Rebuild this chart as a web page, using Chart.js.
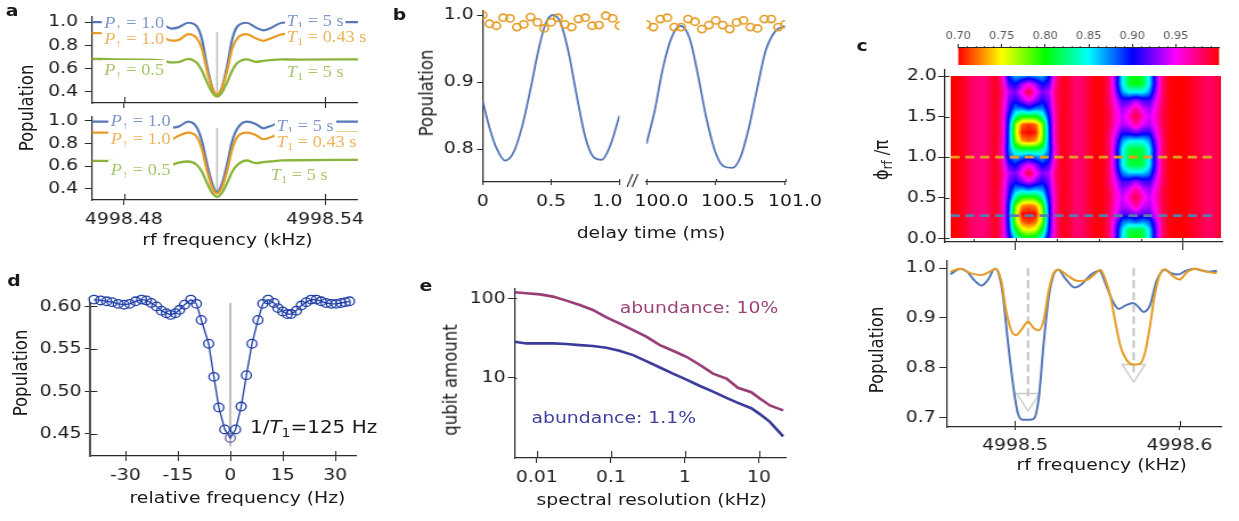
<!DOCTYPE html>
<html>
<head>
<meta charset="utf-8">
<script src="https://cdn.jsdelivr.net/npm/chart.js@4.4.1/dist/chart.umd.min.js"></script>
<style>
html, body { margin: 0; padding: 0; background: #fff; overflow: hidden; width: 1239px; height: 521px; }
#stage { position: absolute; left: 0; top: 0; width: 1087px; height: 521px; transform: scaleX(1.14); transform-origin: 0 0;
         font-family: 'DejaVu Sans'; font-size: 16.5px; color: #1a1a1a; }
#stage canvas { position: absolute; }
.t { position: absolute; white-space: nowrap; line-height: 1; transform: translate(-50%, -50%); }
.v { transform: translate(-50%, -50%) rotate(-90deg); }
.l { transform: translate(0, -50%); }
.b { font-weight: bold; }
.m { font-family: 'Liberation Serif'; font-size: 16px; background: #fff; padding: 2px 2px; }
sub { font-size: 70%; vertical-align: -0.3em; line-height: 0; }
</style>
</head>
<body>
<div id="stage"></div>
<script>
const S = 1.14;            // whole figure is stretched horizontally by this factor
const stage = document.getElementById('stage');

const BLUE = '#5577b8', ORANGE = '#e69c24', GREEN = '#8ab43a', GRAY = '#bdbdbd';
const DBLUE = '#1f3fa6', PURPLE = '#983c74', NAVY = '#3b3b9b';

// ---------- a: spectra for two settings ----------
const aFreq = [4998.4704, 4998.4780, 4998.4840, 4998.4888, 4998.4919, 4998.4941, 4998.4963, 4998.4992,
               4998.5017, 4998.5033, 4998.5048, 4998.5064, 4998.5078, 4998.5092, 4998.5108, 4998.5123,
               4998.5139, 4998.5166, 4998.5193, 4998.5216, 4998.5238, 4998.5271, 4998.5318, 4998.5498];
const aTopBlue   = [1.0, 1.0, 0.998, 0.995, 0.975, 0.945, 0.955, 0.995, 0.965, 0.85, 0.62, 0.43,
                    0.365, 0.43, 0.62, 0.85, 0.965, 0.995, 0.955, 0.93, 0.95, 0.995, 1.0, 1.0];
const aTopOrange = [0.905, 0.905, 0.903, 0.90, 0.868, 0.84, 0.845, 0.897, 0.862, 0.77, 0.58, 0.43,
                    0.37, 0.43, 0.58, 0.77, 0.862, 0.897, 0.86, 0.839, 0.86, 0.894, 0.905, 0.905];
const aTopGreen  = [0.683, 0.678, 0.676, 0.674, 0.665, 0.652, 0.655, 0.683, 0.648, 0.58, 0.48, 0.39,
                    0.355, 0.39, 0.48, 0.58, 0.648, 0.678, 0.657, 0.665, 0.672, 0.678, 0.676, 0.678];
const aBotBlue   = [0.994, 0.994, 0.993, 0.99, 0.965, 0.941, 0.95, 0.994, 0.944, 0.82, 0.62, 0.44,
                    0.367, 0.44, 0.62, 0.82, 0.935, 0.994, 0.974, 0.935, 0.956, 0.99, 0.994, 0.994];
const aBotOrange = [0.897, 0.897, 0.896, 0.89, 0.86, 0.838, 0.868, 0.897, 0.861, 0.75, 0.56, 0.41,
                    0.356, 0.41, 0.56, 0.75, 0.861, 0.897, 0.876, 0.838, 0.856, 0.89, 0.897, 0.897];
const aBotGreen  = [0.647, 0.643, 0.641, 0.635, 0.62, 0.612, 0.63, 0.641, 0.612, 0.55, 0.45, 0.36,
                    0.327, 0.36, 0.45, 0.55, 0.612, 0.65, 0.627, 0.635, 0.641, 0.65, 0.652, 0.656];
const aMarkFreq = [4998.5078, 4998.5078];
const aTopMark = [0.916, 0.355];
const aBotMark = [0.936, 0.362];
const aTicksX = [4998.48, 4998.54], aLabelsX = ['4998.48', '4998.54'];
const aTicksY = [0.4, 0.6, 0.8, 1.0], aLabelsY = ['0.4', '0.6', '0.8', '1.0'];

// ---------- b: population vs delay ----------
const bLeftT   = [0, 0.05, 0.1, 0.165, 0.23, 0.29, 0.35, 0.41, 0.46, 0.515, 0.57, 0.63, 0.69, 0.75, 0.81, 0.87, 0.93, 1.0];
const bLeftPop = [0.872, 0.832, 0.802, 0.783, 0.797, 0.835, 0.890, 0.950, 0.987, 1.0, 0.988, 0.942, 0.877, 0.818, 0.788, 0.784, 0.804, 0.850];
const bRightT   = [100.0, 100.06, 100.12, 100.18, 100.245, 100.31, 100.37, 100.43, 100.5, 100.56, 100.62, 100.68, 100.74, 100.8, 100.86, 100.93, 101.0];
const bRightPop = [0.808, 0.858, 0.922, 0.966, 0.984, 0.966, 0.912, 0.848, 0.794, 0.774, 0.772, 0.789, 0.833, 0.892, 0.947, 0.976, 0.984];
const bCircLeftT = [0, 0.05, 0.1, 0.15, 0.2, 0.25, 0.3, 0.35, 0.4, 0.45, 0.5, 0.55, 0.6, 0.65, 0.7, 0.75, 0.8, 0.85, 0.9, 0.95, 1.0];
const bCircLeft  = [1.0, 0.987, 0.984, 0.996, 0.995, 0.982, 0.986, 0.997, 0.989, 0.980, 0.989, 0.996, 0.986, 0.982, 0.994, 0.996, 0.984, 0.985, 0.999, 0.995, 0.984];
const bCircRightT = [100.0, 100.05, 100.1, 100.15, 100.2, 100.25, 100.3, 100.35, 100.4, 100.45, 100.5, 100.55, 100.6, 100.65, 100.7, 100.75, 100.8, 100.85, 100.9, 100.95, 101.0];
const bCircRight  = [0.986, 0.982, 0.994, 0.996, 0.982, 0.982, 0.994, 0.990, 0.979, 0.985, 0.992, 0.985, 0.979, 0.989, 0.992, 0.982, 0.980, 0.994, 0.994, 0.982, 0.986];
const bTicksY = [0.8, 0.9, 1.0], bLabelsY = ['0.8', '0.9', '1.0'];
const bTicksLeft = [0, 0.5, 1.0], bLabelsLeft = ['0', '0.5', ''];
const bTicksRight = [100.0, 100.5, 101.0];
// labels near the break sit off their ticks, so they are placed as text
const bBreakLabels = ['1.0', '100.0', '100.5', '101.0'];

// ---------- c: phase map and two cuts ----------
const cbarLevels = [0.70, 0.75, 0.80, 0.85, 0.90, 0.95, 1.00];
const cbarColors = ['#ff0000', '#ffff00', '#00ff00', '#00ffff', '#0000ff', '#ff00ff', '#ff0000'];
const cbarTicks = [0.70, 0.75, 0.80, 0.85, 0.90, 0.95], cbarLabels = ['0.70', '0.75', '0.80', '0.85', '0.90', '0.95'];

const heatFreq = [4998.460, 4998.464, 4998.468, 4998.472, 4998.476, 4998.480, 4998.484, 4998.488, 4998.492, 4998.496,
                  4998.500, 4998.504, 4998.508, 4998.512, 4998.516, 4998.520, 4998.524, 4998.528, 4998.532, 4998.536,
                  4998.540, 4998.544, 4998.548, 4998.552, 4998.556, 4998.560, 4998.564, 4998.568, 4998.572, 4998.576,
                  4998.580, 4998.584, 4998.588, 4998.592, 4998.596, 4998.600, 4998.604, 4998.608, 4998.612, 4998.616,
                  4998.620, 4998.624];
const heatPhi = [0, 0.1, 0.2, 0.3, 0.4, 0.5, 0.6, 0.7, 0.8, 0.9, 1.0, 1.1, 1.2, 1.3, 1.4, 1.5, 1.6, 1.7, 1.8, 1.9, 2.0];
// background between the two lines (columns of heatFreq)
const heatBase = [1.0, 1.0, 0.995, 0.985, 0.978, 0.975, 0.982, 1.0, 1.0, 1.0, 1.0, 1.0, 1.0, 1.0, 1.0, 1.0, 1.0, 1.0,
                  0.99, 0.978, 0.98, 0.99, 0.998, 1.0, 1.0, 1.0, 1.0, 1.0, 1.0, 1.0, 1.0, 1.0, 1.0, 1.0,
                  1.0, 1.0, 0.995, 0.99, 0.985, 0.98, 0.985, 0.995];
// line profiles from the centre column outwards, one row per phase
const dip1Col = 12, dip2Col = 28;
const heatDip1 = [
  [0.81, 0.815, 0.85, 0.915, 0.97, 0.995],
  [0.75, 0.76, 0.81, 0.90, 0.97, 0.995],
  [0.71, 0.72, 0.775, 0.895, 0.97, 0.995],
  [0.70, 0.70, 0.765, 0.89, 0.975, 0.995],
  [0.72, 0.73, 0.78, 0.895, 0.97, 0.995],
  [0.79, 0.795, 0.83, 0.905, 0.97, 0.995],
  [0.875, 0.865, 0.87, 0.915, 0.972, 0.995],
  [0.945, 0.925, 0.905, 0.925, 0.975, 0.995],
  [0.99, 0.955, 0.925, 0.935, 0.978, 0.995],
  [0.95, 0.93, 0.90, 0.915, 0.972, 0.995],
  [0.89, 0.875, 0.866, 0.89, 0.965, 0.995],
  [0.81, 0.81, 0.825, 0.88, 0.965, 0.995],
  [0.72, 0.73, 0.775, 0.885, 0.968, 0.995],
  [0.70, 0.705, 0.765, 0.885, 0.97, 0.995],
  [0.71, 0.72, 0.77, 0.89, 0.97, 0.995],
  [0.80, 0.80, 0.83, 0.90, 0.97, 0.995],
  [0.895, 0.88, 0.875, 0.915, 0.972, 0.995],
  [0.95, 0.93, 0.905, 0.925, 0.975, 0.995],
  [0.99, 0.955, 0.925, 0.935, 0.978, 0.995],
  [0.95, 0.93, 0.90, 0.915, 0.972, 0.995],
  [0.88, 0.87, 0.865, 0.895, 0.968, 0.995]
];
const heatDip2 = [
  [0.80, 0.81, 0.85, 0.92, 0.98, 0.997],
  [0.81, 0.815, 0.855, 0.92, 0.98, 0.997],
  [0.88, 0.87, 0.88, 0.93, 0.98, 0.997],
  [0.93, 0.918, 0.918, 0.95, 0.982, 0.997],
  [0.97, 0.945, 0.935, 0.955, 0.985, 0.997],
  [0.99, 0.96, 0.94, 0.96, 0.985, 0.997],
  [0.97, 0.945, 0.93, 0.955, 0.985, 0.997],
  [0.93, 0.915, 0.91, 0.945, 0.98, 0.997],
  [0.86, 0.86, 0.875, 0.93, 0.98, 0.997],
  [0.81, 0.815, 0.85, 0.92, 0.98, 0.997],
  [0.805, 0.81, 0.85, 0.92, 0.98, 0.997],
  [0.81, 0.815, 0.85, 0.92, 0.98, 0.997],
  [0.85, 0.85, 0.87, 0.93, 0.98, 0.997],
  [0.92, 0.91, 0.905, 0.945, 0.98, 0.997],
  [0.97, 0.945, 0.935, 0.955, 0.985, 0.997],
  [0.99, 0.96, 0.94, 0.96, 0.985, 0.997],
  [0.97, 0.945, 0.93, 0.955, 0.985, 0.997],
  [0.93, 0.915, 0.91, 0.945, 0.98, 0.997],
  [0.85, 0.85, 0.87, 0.93, 0.98, 0.997],
  [0.80, 0.81, 0.85, 0.92, 0.98, 0.997],
  [0.80, 0.81, 0.85, 0.92, 0.98, 0.997]
];
const heatExtent = [4998.4614, 4998.6229];
const cutFreq = [4998.4612, 4998.6195];
const cutPhiOrange = [1.0, 1.0], cutPhiBlue = [0.28, 0.28];
const heatTicksY = [0, 0.5, 1.0, 1.5, 2.0], heatLabelsY = ['0.0', '0.5', '1.0', '1.5', '2.0'];
const cTicksX = [4998.5, 4998.6], cLabelsX = ['4998.5', '4998.6'];
const cMinorX = [4998.475, 4998.525, 4998.55, 4998.575];

const cBlueF = [4998.4608, 4998.4668, 4998.4708, 4998.4758, 4998.4797, 4998.4837, 4998.4877, 4998.4897, 4998.4926, 4998.4956,
                4998.4986, 4998.5016, 4998.5046, 4998.5085, 4998.5115, 4998.5145, 4998.5175, 4998.5205, 4998.5235, 4998.5264,
                4998.5304, 4998.5364, 4998.5403, 4998.5463, 4998.5513, 4998.5553, 4998.5592, 4998.5632, 4998.5672, 4998.5718,
                4998.5751, 4998.5781, 4998.5821, 4998.5861, 4998.5910, 4998.5950, 4998.5990, 4998.6040, 4998.6089, 4998.6139,
                4998.6179, 4998.6229];
const cBluePop = [0.988, 0.999, 0.993, 0.974, 0.965, 0.977, 0.999, 0.993, 0.948, 0.856,
                  0.772, 0.710, 0.695, 0.695, 0.697, 0.739, 0.85, 0.941, 0.987, 0.997,
                  0.980, 0.961, 0.967, 0.987, 0.995, 0.967, 0.935, 0.918, 0.925, 0.930,
                  0.922, 0.912, 0.925, 0.974, 0.997, 0.990, 0.987, 0.995, 0.999, 0.995,
                  0.993, 0.995];
const cOrangeF = [4998.4608, 4998.4668, 4998.4728, 4998.4797, 4998.4847, 4998.4883, 4998.4917, 4998.4946, 4998.4976, 4998.5006,
                  4998.5036, 4998.5080, 4998.5115, 4998.5145, 4998.5175, 4998.5205, 4998.5235, 4998.5264, 4998.5324, 4998.5384,
                  4998.5443, 4998.5493, 4998.5519, 4998.5553, 4998.5582, 4998.5612, 4998.5642, 4998.5682, 4998.5721, 4998.5761,
                  4998.5791, 4998.5821, 4998.5851, 4998.5881, 4998.5910, 4998.5950, 4998.6000, 4998.6049, 4998.6099, 4998.6159,
                  4998.6228];
const cOrangePop = [0.993, 0.999, 0.990, 0.986, 0.993, 0.999, 0.974, 0.915, 0.876, 0.865,
                    0.875, 0.892, 0.879, 0.875, 0.896, 0.954, 0.990, 0.997, 0.984, 0.974,
                    0.977, 0.990, 0.997, 0.974, 0.941, 0.889, 0.843, 0.814, 0.806, 0.808,
                    0.830, 0.883, 0.948, 0.987, 0.998, 0.987, 0.977, 0.993, 0.999, 0.993,
                    0.990];
const cGuide1F = [4998.508, 4998.508], cGuide1 = [1.0, 0.735];
const cGuide2F = [4998.5722, 4998.5722], cGuide2 = [1.0, 0.785];
const cTriF = [4998.508, 4998.5722], cTri = [0.736, 0.7945];
const cTicksY = [0.7, 0.8, 0.9, 1.0], cLabelsY = ['0.7', '0.8', '0.9', '1.0'];

// ---------- d: single resonance ----------
const dFreq = [-39.0, -37.1, -35.4, -33.8, -32.1, -30.4, -28.8, -27.1, -25.4, -24.0, -22.6, -21.1, -19.7, -18.3, -17.1,
               -15.7, -14.5, -13.1, -11.3, -9.7, -8.3, -6.2, -4.7, -3.3, -1.6, 0.0, 1.5, 3.1, 4.6, 6.2, 7.9, 9.3,
               10.8, 12.5, 13.6, 15.0, 16.3, 17.4, 18.9, 20.3, 21.7, 23.1, 24.6, 26.0, 27.4, 28.9, 30.3, 31.7, 32.9, 34.1];
const dPop = [0.608, 0.607, 0.606, 0.605, 0.603, 0.602, 0.603, 0.606, 0.608, 0.607, 0.604, 0.600, 0.595, 0.592, 0.590,
              0.592, 0.596, 0.602, 0.608, 0.603, 0.584, 0.556, 0.517, 0.481, 0.455, 0.445, 0.455, 0.482, 0.519, 0.556,
              0.584, 0.603, 0.608, 0.604, 0.598, 0.594, 0.591, 0.591, 0.595, 0.601, 0.605, 0.608, 0.608, 0.606, 0.604,
              0.603, 0.603, 0.604, 0.605, 0.606];
const dMarkF = [0, 0], dMark = [0.606, 0.435];
const dTicksX = [-30, -15, 0, 15, 30], dLabelsX = ['-30', '-15', '0', '15', '30'];
const dTicksY = [0.45, 0.50, 0.55, 0.60], dLabelsY = ['0.45', '0.50', '0.55', '0.60'];

// ---------- e: qubit count vs resolution ----------
const eRes = [0.005, 0.0072, 0.011, 0.0165, 0.025, 0.038, 0.057, 0.087, 0.13, 0.2, 0.3,
              0.46, 0.69, 1.05, 1.6, 2.4, 3.65, 5.2, 7.9, 10.3, 14.1, 21.3];
const eHigh = [119, 115.6, 112, 105, 93.5, 82.4, 71.3, 57.6, 48.4, 39.9, 32.9,
               25.8, 21.9, 18.4, 14.5, 11.3, 9.8, 7.5, 6.6, 5.5, 4.5, 3.9];
const eLow = [28.5, 27.1, 27.1, 27.1, 26.6, 25.8, 25.1, 23.9, 21.9, 19.3, 16.2,
              13.5, 11.3, 9.5, 7.9, 6.7, 5.6, 4.85, 4.15, 3.5, 2.8, 1.84];
const eTicksX = [0.01, 0.1, 1, 10], eLabelsX = ['0.01', '0.1', '1', '10'];
const eTicksY = [10, 100], eLabelsY = ['10', '100'];

// ---------- helpers ----------
Chart.defaults.font.family = 'DejaVu Sans';
Chart.defaults.font.size = 16.5;
Chart.defaults.color = '#1a1a1a';

const pts = (xs, ys) => xs.map((x, i) => ({x, y: ys[i]}));
const curve = (xs, ys, color, w, extra) => Object.assign({
  data: pts(xs, ys), showLine: true, borderColor: color, borderWidth: w, pointRadius: 0,
  cubicInterpolationMode: 'monotone', fill: false
}, extra || {});
const straight = (xs, ys, color, w, extra) => curve(xs, ys, color, w, Object.assign({cubicInterpolationMode: 'default', tension: 0}, extra || {}));

function axis(o) {
  return {
    type: o.type || 'linear', position: o.pos, min: o.min, max: o.max, bounds: 'data',
    afterBuildTicks: s => { s.ticks = o.ticks.map(v => ({value: v})); },
    ticks: {display: !!o.labels, autoSkip: false, maxRotation: 0, minRotation: 0, padding: o.pad ?? 4,
            font: o.font, color: o.color, callback: (v, i) => (o.labels ? o.labels[i] : '')},
    grid: {drawOnChartArea: false, tickLength: o.tl ?? 5, color: o.tc || '#2a2a2a', lineWidth: 1},
    border: {color: o.bc || '#2a2a2a', width: o.bw || 1.2}
  };
}

// ticks that reach into the plot area
const inTicks = {
  id: 'inTicks',
  afterDatasetsDraw(chart, args, opts) {
    const {ctx, chartArea: a, scales} = chart;
    ctx.save();
    ctx.strokeStyle = '#2a2a2a';
    ctx.lineWidth = 1;
    ctx.beginPath();
    if (opts.x) {
      const sx = scales.x;
      const put = (v, len) => { const p = Math.round(sx.getPixelForValue(v)) + 0.5; ctx.moveTo(p, a.bottom); ctx.lineTo(p, a.bottom - len); };
      sx.ticks.forEach(t => put(t.value, opts.x));
      (opts.xMinor || []).forEach(v => put(v, opts.xMinorLen || 3));
    }
    if (opts.y) {
      const sy = scales.y;
      sy.ticks.forEach(t => { const p = Math.round(sy.getPixelForValue(t.value)) + 0.5; ctx.moveTo(a.left, p); ctx.lineTo(a.left + opts.y, p); });
    }
    ctx.stroke();
    ctx.restore();
  }
};
Chart.register(inTicks);

// area = plot box in figure pixels, pad = room for ticks/labels around it
function makeChart(area, pad, cfg) {
  const cv = document.createElement('canvas');
  const w = Math.round((area[2] - area[0] + pad[0] + pad[2]) / S);
  const h = Math.round(area[3] - area[1] + pad[1] + pad[3]);
  cv.width = w; cv.height = h;
  cv.style.left = ((area[0] - pad[0]) / S) + 'px';
  cv.style.top = (area[1] - pad[1]) + 'px';
  cv.style.width = w + 'px';
  cv.style.height = h + 'px';
  stage.appendChild(cv);
  const o = cfg.options;
  let yShown = false, xShown = false, xTop = false;
  for (const id in o.scales) {
    const s = o.scales[id];
    if (s.display === false) continue;
    if (id === 'x') { xShown = true; xTop = s.position === 'top'; } else yShown = true;
    s.afterFit = sc => {
      if (sc.isHorizontal()) sc.height = xTop ? pad[1] : pad[3];
      else sc.width = pad[0] / S;
      sc.paddingLeft = sc.paddingRight = sc.paddingTop = sc.paddingBottom = 0;
    };
  }
  o.layout = {padding: {left: yShown ? 0 : pad[0] / S, right: pad[2] / S,
                        top: xTop ? 0 : pad[1], bottom: xShown && !xTop ? 0 : pad[3]}};
  o.responsive = false;
  o.animation = false;
  o.devicePixelRatio = 1;
  o.plugins = Object.assign({legend: {display: false}, tooltip: {enabled: false}}, o.plugins || {});
  return new Chart(cv, cfg);
}

function T(html, x, y, cls, style) {
  const d = document.createElement('div');
  d.className = 't ' + (cls || '');
  d.innerHTML = html;
  d.style.left = (x / S) + 'px';
  d.style.top = y + 'px';
  if (style) d.style.cssText += style;
  stage.appendChild(d);
}

// ---------- a ----------
const aX = {min: 4998.4704, max: 4998.5498, ticks: aTicksX, tl: 5};
makeChart([92, 16.8, 358, 103.1], [62, 8, 8, 12], {
  type: 'scatter',
  data: {datasets: [
    curve(aFreq, aTopGreen, GREEN, 2.3), curve(aFreq, aTopOrange, ORANGE, 2.2), curve(aFreq, aTopBlue, BLUE, 2.2),
    straight(aMarkFreq, aTopMark, GRAY, 1.5)
  ]},
  options: {
    scales: {x: axis(aX), y: axis({min: 0.30, max: 1.045, ticks: aTicksY, labels: aLabelsY, tl: 6, pad: 6})},
    plugins: {inTicks: {x: 6}}
  }
});
makeChart([92, 117, 358, 200.3], [62, 6, 8, 36], {
  type: 'scatter',
  data: {datasets: [
    curve(aFreq, aBotGreen, GREEN, 2.3), curve(aFreq, aBotOrange, ORANGE, 2.2), curve(aFreq, aBotBlue, BLUE, 2.2),
    straight(aMarkFreq, aBotMark, GRAY, 1.5)
  ]},
  options: {
    scales: {x: axis(Object.assign({labels: aLabelsX, pad: 5}, aX)),
             y: axis({min: 0.30, max: 1.035, ticks: aTicksY, labels: aLabelsY, tl: 6, pad: 6})},
    plugins: {inTicks: {x: 6}}
  }
});

// ---------- b ----------
const circles = (xs, ys) => ({data: pts(xs, ys), showLine: false, pointRadius: 3.6, pointBorderWidth: 1.6,
                              pointBorderColor: ORANGE, pointBackgroundColor: 'rgba(0,0,0,0)'});
makeChart([483, 10.6, 622, 182], [62, 6, 4, 36], {
  type: 'scatter',
  data: {datasets: [circles(bCircLeftT, bCircLeft), curve(bLeftT, bLeftPop, BLUE, 1.8)]},
  options: {
    scales: {x: axis({min: 0, max: 1.0, ticks: bTicksLeft, labels: bLabelsLeft, tl: 3, pad: 7}),
             y: axis({min: 0.751, max: 1.006, ticks: bTicksY, labels: bLabelsY, tl: 5, pad: 3})},
    plugins: {inTicks: {x: 3}}
  }
});
const breakMarks = {
  id: 'breakMarks',
  afterDraw(chart) {
    const {ctx, chartArea: a} = chart;
    ctx.save();
    ctx.strokeStyle = '#2a2a2a';
    ctx.lineWidth = 1.1;
    ctx.beginPath();
    [17, 12.5].forEach(d => {
      const x = a.left - d;
      ctx.moveTo(x, a.bottom + 5); ctx.lineTo(x + 5, a.bottom - 8);
    });
    ctx.stroke();
    ctx.restore();
  }
};
makeChart([647, 10.6, 786, 182], [24, 6, 30, 36], {
  type: 'scatter',
  data: {datasets: [circles(bCircRightT, bCircRight), curve(bRightT, bRightPop, BLUE, 1.8)]},
  options: {
    scales: {x: axis({min: 100.0, max: 101.0, ticks: bTicksRight, tl: 3}),
             y: {display: false, min: 0.751, max: 1.006}},
    plugins: {inTicks: {x: 3}}
  },
  plugins: [breakMarks]
});

// ---------- c: colour bar ----------
function hsv(v) {
  const lo = cbarLevels[0], hi = cbarLevels[cbarLevels.length - 1];
  const t = Math.min(1, Math.max(0, (v - lo) / (hi - lo))) * 6;
  const i = Math.min(5, Math.floor(t)), f = t - i;
  const rgb = [[1, f, 0], [1 - f, 1, 0], [0, 1, f], [0, 1 - f, 1], [f, 0, 1], [1, 0, 1 - f]][i];
  return rgb.map(c => Math.round(c * 255));
}
const cbarMinor = {
  id: 'cbarMinor',
  afterDraw(chart) {
    const {ctx, chartArea: a, scales: {x}} = chart;
    ctx.save();
    ctx.strokeStyle = '#2a2a2a';
    ctx.lineWidth = 0.8;
    ctx.beginPath();
    for (let k = 71; k < 100; k++) {
      if (k % 5 === 0) continue;
      const p = Math.round(x.getPixelForValue(k / 100)) + 0.5;
      ctx.moveTo(p, a.top); ctx.lineTo(p, a.top - 2);
    }
    ctx.stroke();
    ctx.restore();
  }
};
makeChart([958.3, 48.3, 1219.3, 65], [20, 24, 20, 2], {
  type: 'bar',
  data: {labels: [''], datasets: [{
    data: [[cbarLevels[0], cbarLevels[cbarLevels.length - 1]]], barPercentage: 1, categoryPercentage: 1, borderWidth: 0,
    backgroundColor(c) {
      const {chart} = c;
      if (!chart.chartArea) return '#f00';
      const x = chart.scales.x, lo = cbarLevels[0], hi = cbarLevels[cbarLevels.length - 1];
      const g = chart.ctx.createLinearGradient(x.getPixelForValue(lo), 0, x.getPixelForValue(hi), 0);
      cbarLevels.forEach((v, i) => g.addColorStop((v - lo) / (hi - lo), cbarColors[i]));
      return g;
    }
  }]},
  options: {
    indexAxis: 'y',
    scales: {x: axis({pos: 'top', min: 0.70, max: 1.00, ticks: cbarTicks, labels: cbarLabels, tl: 4, pad: 2,
                      font: {size: 10}, color: '#555', bw: 1.2}),
             y: {display: false}}
  },
  plugins: [cbarMinor]
});

// ---------- c: phase map ----------
const heatGrid = heatPhi.map((p, j) => heatBase.map((v, k) => {
  const d1 = Math.abs(k - dip1Col), d2 = Math.abs(k - dip2Col);
  if (d1 < heatDip1[j].length) return heatDip1[j][d1];
  if (d2 < heatDip2[j].length) return heatDip2[j][d2];
  return v;
}));
const heatLayer = {
  id: 'heatLayer',
  beforeDatasetsDraw(chart) {
    const {ctx, scales: {x, y}} = chart;
    const xa = Math.round(x.getPixelForValue(heatExtent[0])), xb = Math.round(x.getPixelForValue(heatExtent[1]));
    const ya = Math.round(y.getPixelForValue(heatPhi[heatPhi.length - 1])), yb = Math.round(y.getPixelForValue(heatPhi[0]));
    const w = xb - xa, h = yb - ya;
    const img = ctx.createImageData(w, h);
    const df = heatFreq[1] - heatFreq[0], dp = heatPhi[1] - heatPhi[0];
    const nr = heatPhi.length - 1, nc = heatFreq.length - 1;
    for (let j = 0; j < h; j++) {
      const r = Math.min(nr - 1e-6, Math.max(0, (y.getValueForPixel(ya + j + 0.5) - heatPhi[0]) / dp));
      const r0 = Math.floor(r), fr = r - r0;
      for (let i = 0; i < w; i++) {
        const c = Math.min(nc - 1e-6, Math.max(0, (x.getValueForPixel(xa + i + 0.5) - heatFreq[0]) / df));
        const c0 = Math.floor(c), fc = c - c0;
        const v = (1 - fr) * ((1 - fc) * heatGrid[r0][c0] + fc * heatGrid[r0][c0 + 1]) +
                  fr * ((1 - fc) * heatGrid[r0 + 1][c0] + fc * heatGrid[r0 + 1][c0 + 1]);
        const rgb = hsv(v), o = (j * w + i) * 4;
        img.data[o] = rgb[0]; img.data[o + 1] = rgb[1]; img.data[o + 2] = rgb[2]; img.data[o + 3] = 255;
      }
    }
    const off = document.createElement('canvas');
    off.width = w; off.height = h;
    off.getContext('2d').putImageData(img, 0, 0);
    ctx.drawImage(off, xa, ya);
  }
};
makeChart([945, 70, 1223, 241.7], [50, 8, 10, 14], {
  type: 'scatter',
  data: {datasets: [
    straight(cutFreq, cutPhiOrange, ORANGE, 2.8, {borderDash: [8, 5]}),
    straight(cutFreq, cutPhiBlue, '#5a7ab0', 2.8, {borderDash: [8, 5]})
  ]},
  options: {
    scales: {x: axis({min: 4998.4578, max: 4998.6237, ticks: cTicksX, tl: 8}),
             y: axis({min: -0.046, max: 2.074, ticks: heatTicksY, labels: heatLabelsY, tl: 6, pad: 1})},
    plugins: {inTicks: {x: 4, y: 4, xMinor: cMinorX, xMinorLen: 3}}
  },
  plugins: [heatLayer]
});

// ---------- c: cuts ----------
makeChart([946.7, 255, 1226.7, 426.7], [50, 8, 10, 36], {
  type: 'scatter',
  data: {datasets: [
    curve(cOrangeF, cOrangePop, ORANGE, 2),
    curve(cBlueF, cBluePop, BLUE, 2),
    {data: pts(cTriF, cTri), showLine: false, pointStyle: 'triangle', rotation: 180, pointRadius: 11.7,
     pointBorderColor: '#cccccc', pointBackgroundColor: 'rgba(0,0,0,0)', pointBorderWidth: 1.4},
    straight(cGuide1F, cGuide1, '#c4c4c4', 2, {borderDash: [8, 4]}),
    straight(cGuide2F, cGuide2, '#c4c4c4', 2, {borderDash: [8, 4]})
  ]},
  options: {
    scales: {x: axis({min: 4998.4588, max: 4998.6259, ticks: cTicksX, labels: cLabelsX, tl: 3, pad: 6}),
             y: axis({min: 0.6804, max: 1.0162, ticks: cTicksY, labels: cLabelsY, tl: 7, pad: 3})},
    plugins: {inTicks: {x: 6}}
  }
});

// ---------- d ----------
makeChart([90.7, 303.3, 357, 456.7], [62, 16, 14, 36], {
  type: 'scatter',
  data: {datasets: [
    straight(dFreq, dPop, DBLUE, 1.3, {pointRadius: 4.3, pointBorderWidth: 1.3, clip: false,
      pointBorderColor: dFreq.map(f => (f === 0 ? '#6c5ba6' : DBLUE)), pointBackgroundColor: 'rgba(0,0,0,0)'}),
    straight(dMarkF, dMark, GRAY, 2)
  ]},
  options: {
    scales: {x: axis({min: -40, max: 36.1, ticks: dTicksX, labels: dLabelsX, tl: 5, pad: 5}),
             y: axis({min: 0.4237, max: 0.604, ticks: dTicksY, labels: dLabelsY, tl: 5, pad: 3, bc: '#555', bw: 2})},
    plugins: {inTicks: {x: 5, y: 6}}
  }
});

// ---------- e ----------
makeChart([515, 289, 786.7, 457.7], [62, 8, 16, 36], {
  type: 'scatter',
  data: {datasets: [
    straight(eRes, eHigh, PURPLE, 2.6),
    straight(eRes, eLow, NAVY, 2.6)
  ]},
  options: {
    scales: {x: axis({type: 'logarithmic', min: 0.00499, max: 23.7, ticks: eTicksX, labels: eLabelsX, tl: 5, pad: 5}),
             y: axis({type: 'logarithmic', min: 0.983, max: 130.9, ticks: eTicksY, labels: eLabelsY, tl: 6, pad: 2})},
    plugins: {inTicks: {x: 7, y: 2}}
  }
});

// ---------- text ----------
T('a', 12, 11, 'b');
T('b', 399.5, 15, 'b');
T('c', 862, 46, 'b');
T('d', 14, 281, 'b');
T('e', 426, 286, 'b');

T('Population', 27, 107.5, 'v');
T('rf frequency (kHz)', 227.5, 240);
T('Population', 428, 93, 'v');
T('delay time (ms)', 651, 233);
[607.5, 661.5, 728, 795].forEach((x, i) => T(bBreakLabels[i], x, 200.5));
T('ϕ<sub>rf</sub> /π', 882, 160, 'v');
T('Population', 878, 350, 'v');
T('rf frequency (kHz)', 1101.7, 465);
T('Population', 22, 373, 'v');
T('relative frequency (Hz)', 237.5, 498);
T('1/<i>T</i><sub>1</sub>=125 Hz', 250, 428, 'l', 'font-size:17.5px');
T('qubit amount', 451, 380, 'v');
T('spectral resolution (kHz)', 651.7, 500);
T('abundance: 10%', 699, 308, '', 'color:#9b4279');
T('abundance: 1.1%', 613.8, 418, '', 'color:#40409e');

const aLeftText = ['<i>P</i><sub>↑</sub> = 1.0', '<i>P</i><sub>↑</sub> = 1.0', '<i>P</i><sub>↑</sub> = 0.5'];
const aRightText = ['<i>T</i><sub>1</sub> = 5 s', '<i>T</i><sub>1</sub> = 0.43 s', '<i>T</i><sub>1</sub> = 5 s'];
const aTextColors = ['#7f97c9', '#efb45a', '#a7c76a'];
[[22.5, 38.5, 70], [121, 138.5, 170]].forEach((ys, p) => ys.forEach((y, i) =>
  T(aLeftText[i], p ? 108.5 : 102, y, 'l m', 'color:' + aTextColors[i])));
[[21, 36.5, 72], [125.5, 141.5, 174.5]].forEach((ys, p) => ys.forEach((y, i) =>
  T(aRightText[i], p ? (i === 2 ? 268.5 : 274.5) : 284.5, y, 'l m', 'color:' + aTextColors[i])));
</script>
</body>
</html>
